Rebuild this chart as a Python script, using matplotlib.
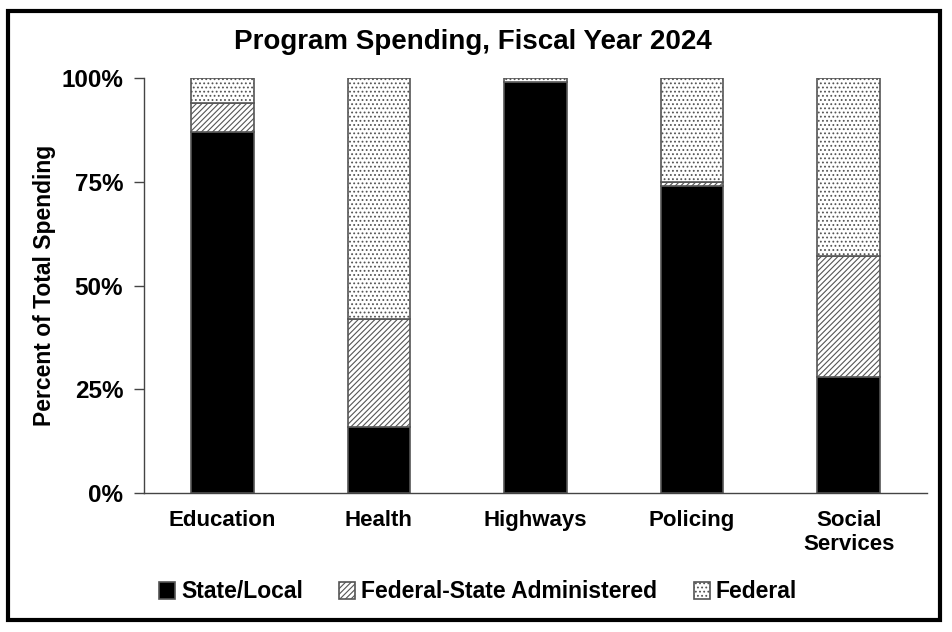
import numpy as np
import matplotlib.pyplot as plt
import matplotlib.patches as mpatches
from matplotlib.ticker import PercentFormatter

# data (percent of total spending)
programs = ["Education", "Health", "Highways", "Policing", "Social\nServices"]
state_local = [87, 16, 99, 74, 28]
fed_state = [7, 26, 0, 1, 29]
federal = [6, 58, 1, 25, 43]

series_names = ["State/Local", "Federal-State Administered", "Federal"]

plt.rcParams['font.family'] = ['Liberation Sans', 'DejaVu Sans']
plt.rcParams['font.weight'] = 'bold'
plt.rcParams['hatch.linewidth'] = 0.8
plt.rcParams['hatch.color'] = '#222222'

fig = plt.figure(figsize=(9.52, 6.32), dpi=100)
ax = fig.add_axes([144/952, 1 - 493/632, (927-144)/952, (493-78)/632])

x = np.arange(len(programs))
w = 0.40
edge = '#555555'

ax.bar(x, state_local, w, color='black', edgecolor=edge, linewidth=1.2,
       label=series_names[0])
ax.bar(x, fed_state, w, bottom=state_local, color='white', edgecolor=edge,
       hatch='//////', linewidth=1.2, label=series_names[1])
bottom2 = np.array(state_local) + np.array(fed_state)
ax.bar(x, federal, w, bottom=bottom2, color='white', edgecolor=edge,
       hatch='....', linewidth=1.2, label=series_names[2])

ax.set_xlim(-0.5, len(programs) - 0.5)
ax.set_ylim(0, 100)
ax.set_yticks([0, 25, 50, 75, 100])
ax.yaxis.set_major_formatter(PercentFormatter(100, decimals=0))
ax.set_xticks(x, programs, fontsize=16, fontweight='bold')
ax.tick_params(axis='y', labelsize=17.5, length=7, width=1, color='#444444', pad=8)
ax.tick_params(axis='x', length=0, pad=12)

for s in ['top', 'right']:
    ax.spines[s].set_visible(False)
for s in ['left', 'bottom']:
    ax.spines[s].set_color('#444444')
    ax.spines[s].set_linewidth(1.0)

ax.set_ylabel("Percent of Total Spending", fontsize=16.5, fontweight='bold', labelpad=4)
fig.text(473/952, 1 - 42/632, "Program Spending, Fiscal Year 2024",
         ha='center', va='center', fontsize=20, fontweight='bold')

leg = fig.legend(loc='center', bbox_to_anchor=(478/952, 1 - 592/632), ncol=3,
                 frameon=False, fontsize=16.5, handlelength=0.7, handleheight=0.7,
                 handletextpad=0.25, columnspacing=1.6)

# figure border
fig.patches.append(mpatches.Rectangle((8/952, 1 - 620/632), (940-8)/952, (620-11)/632,
                                      transform=fig.transFigure, fill=False,
                                      edgecolor='black', linewidth=3))

fig.savefig("out.png", dpi=100)
